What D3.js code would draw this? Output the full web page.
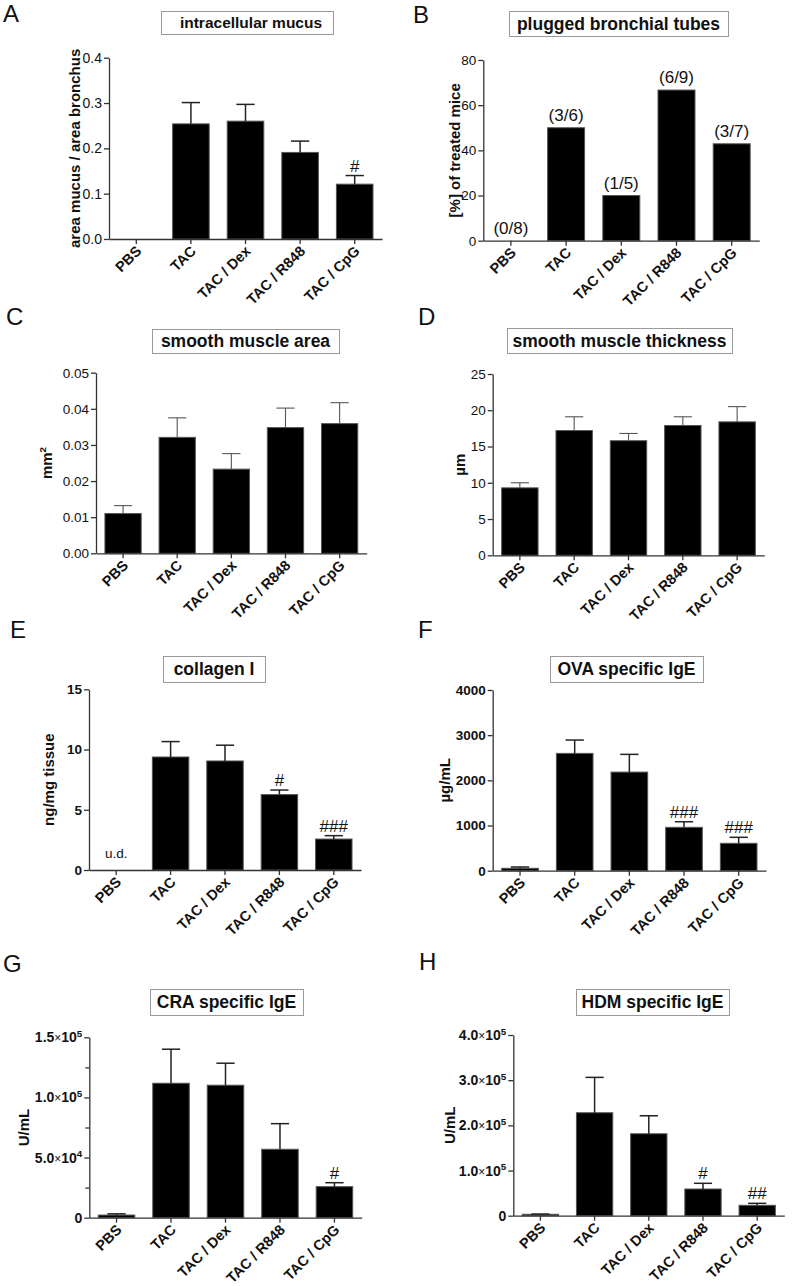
<!DOCTYPE html>
<html>
<head>
<meta charset="utf-8">
<script src="https://cdn.jsdelivr.net/npm/d3@7"></script>
<style>
  body { margin: 0; background: #fff; }
  svg { display: block; }
  text { font-family: "Liberation Sans", Arial, Helvetica, sans-serif; fill: #111; }
</style>
</head>
<body>
<div id="chart"></div>
<script>
// Groups on every x axis
const groups = ["PBS", "TAC", "TAC / Dex", "TAC / R848", "TAC / CpG"];

// A: intracellular mucus (area mucus / area bronchus)
const mucusMean = [0, 0.254, 0.260, 0.191, 0.121];
const mucusSem  = [0, 0.047, 0.037, 0.025, 0.019];
const mucusSig  = ["", "", "", "", "#"];
const mucusTicks = [0, 0.1, 0.2, 0.3, 0.4];

// B: plugged bronchial tubes (% of treated mice)
const pluggedPct = [0, 50, 20, 66.7, 42.9];
const pluggedCounts = ["(0/8)", "(3/6)", "(1/5)", "(6/9)", "(3/7)"];
const pluggedTicks = [0, 20, 40, 60, 80];

// C: smooth muscle area (mm2)
const smAreaMean = [0.0110, 0.0321, 0.0233, 0.0348, 0.0359];
const smAreaSem  = [0.0022, 0.0054, 0.0043, 0.0054, 0.0058];
const smAreaTicks = [0, 0.01, 0.02, 0.03, 0.04, 0.05];

// D: smooth muscle thickness (µm)
const smThickMean = [9.3, 17.2, 15.8, 17.9, 18.4];
const smThickSem  = [0.7, 1.9, 1.0, 1.2, 2.1];
const smThickTicks = [0, 5, 10, 15, 20, 25];

// E: collagen I (ng/mg tissue)
const collagenMean = [0, 9.38, 9.05, 6.26, 2.57];
const collagenSem  = [0, 1.28, 1.31, 0.38, 0.28];
const collagenSig  = ["", "", "", "#", "###"];
const collagenNote = ["u.d.", "", "", "", ""];
const collagenTicks = [0, 5, 10, 15];

// F: OVA specific IgE (µg/mL)
const ovaMean = [53, 2597, 2183, 960, 606];
const ovaSem  = [29, 295, 392, 124, 133];
const ovaSig  = ["", "", "", "###", "###"];
const ovaTicks = [0, 1000, 2000, 3000, 4000];

// G: CRA specific IgE (U/mL)
const craMean = [2200, 111800, 110150, 56900, 25800];
const craSem  = [1000, 28300, 18300, 21300, 3300];
const craSig  = ["", "", "", "", "#"];
const craTicks = [0, 50000, 100000, 150000];
const craMinor = [25000, 75000, 125000];

// H: HDM specific IgE (U/mL)
const hdmMean = [3100, 227900, 181400, 59100, 23000];
const hdmSem  = [500, 78300, 39800, 12600, 4400];
const hdmSig  = ["", "", "", "#", "##"];
const hdmTicks = [0, 100000, 200000, 300000, 400000];

const svg = d3.select("#chart").append("svg")
  .attr("width", 792)
  .attr("height", 1286)
  .attr("viewBox", [0, 0, 792, 1286]);

// writes 1.5×10⁵ style labels as tspans
function sciLabel(sel, v) {
  sel.text(null);
  if (v === 0) { sel.text("0"); return; }
  const e = Math.floor(Math.log10(v));
  const m = v / Math.pow(10, e);
  sel.append("tspan").text(m.toFixed(1));
  sel.append("tspan").attr("font-weight", "normal").attr("font-size", "0.85em").text("×");
  sel.append("tspan").text("10");
  sel.append("tspan").attr("font-size", "0.7em").attr("dy", "-0.55em").text(e);
}

function panel(p) {
  const g = svg.append("g");

  // panel letter
  g.append("text")
    .attr("x", p.letter[1]).attr("y", p.letter[2])
    .attr("font-size", 24)
    .text(p.letter[0]);

  // boxed title
  const [bx0, by0, bx1, by1] = p.box;
  g.append("rect")
    .attr("x", bx0 + 0.5).attr("y", by0 + 0.5)
    .attr("width", bx1 - bx0).attr("height", by1 - by0)
    .attr("fill", "none").attr("stroke", "#9a9a9a");
  g.append("text")
    .attr("x", (bx0 + bx1) / 2 + (p.titleDx || 0))
    .attr("y", (by0 + by1) / 2 + p.titleSize * 0.36)
    .attr("text-anchor", "middle")
    .attr("font-weight", "bold")
    .attr("font-size", p.titleSize)
    .text(p.title);

  const x = d3.scaleBand()
    .domain(groups)
    .range([p.left, p.right])
    .paddingInner(0.33)
    .paddingOuter(0.165);

  const y = d3.scaleLinear()
    .domain([0, p.yMax])
    .range([p.bottom, p.top]);

  const rows = groups.map((k, i) => ({
    k, v: p.mean[i], e: p.sem ? p.sem[i] : 0,
    sig: p.sig ? p.sig[i] : "", note: p.note ? p.note[i] : ""
  }));

  // bars
  g.append("g").selectAll("rect")
    .data(rows.filter(d => d.v > 0))
    .join("rect")
    .attr("x", d => x(d.k))
    .attr("width", x.bandwidth())
    .attr("y", d => y(d.v))
    .attr("height", d => y(0) - y(d.v))
    .attr("fill", "#000")
    .attr("stroke", "#555")
    .attr("stroke-width", 1);

  // error bars (upper half only)
  const eb = g.append("g")
    .attr("stroke", p.errColor || "#222")
    .attr("stroke-width", p.errWidth || 1.5);
  const withErr = rows.filter(d => d.e > 0);
  eb.selectAll("line.v").data(withErr).join("line").attr("class", "v")
    .attr("x1", d => x(d.k) + x.bandwidth() / 2)
    .attr("x2", d => x(d.k) + x.bandwidth() / 2)
    .attr("y1", d => y(d.v))
    .attr("y2", d => y(d.v + d.e));
  eb.selectAll("line.c").data(withErr).join("line").attr("class", "c")
    .attr("x1", d => x(d.k) + x.bandwidth() / 4)
    .attr("x2", d => x(d.k) + x.bandwidth() * 3 / 4)
    .attr("y1", d => y(d.v + d.e))
    .attr("y2", d => y(d.v + d.e));

  // significance marks
  g.append("g").selectAll("text")
    .data(rows.filter(d => d.sig))
    .join("text")
    .attr("x", d => x(d.k) + x.bandwidth() / 2)
    .attr("y", d => y(d.v + d.e) - 4)
    .attr("text-anchor", "middle")
    .attr("font-size", 17)
    .text(d => d.sig);

  // labels above bars (counts, u.d.)
  g.append("g").selectAll("text")
    .data(rows.filter(d => d.note))
    .join("text")
    .attr("x", d => x(d.k) + x.bandwidth() / 2)
    .attr("y", d => y(d.v) - (p.noteGap || 7))
    .attr("text-anchor", "middle")
    .attr("font-size", p.noteSize || 17)
    .text(d => d.note);

  // y axis
  const ya = g.append("g")
    .attr("transform", `translate(${p.left},0)`)
    .call(d3.axisLeft(y).tickValues(p.ticks).tickSize(5).tickSizeOuter(0).tickPadding(2)
      .tickFormat(p.fmt ? d3.format(p.fmt) : d3.format("d")));
  ya.selectAll("text")
    .attr("font-size", p.tickSize)
    .attr("font-weight", p.tickBold ? "bold" : "normal")
    .attr("fill", "#111");
  if (p.sci) ya.selectAll(".tick text").each(function (d) { sciLabel(d3.select(this), d); });
  if (p.minor) {
    g.append("g")
      .attr("transform", `translate(${p.left},0)`)
      .call(d3.axisLeft(y).tickValues(p.minor).tickSize(4).tickFormat(""))
      .call(s => s.select(".domain").remove());
  }

  // x axis
  const xa = g.append("g")
    .attr("transform", `translate(0,${p.bottom})`)
    .call(d3.axisBottom(x).tickSize(5).tickSizeOuter(0));
  xa.selectAll("text")
    .attr("x", 0).attr("y", 0).attr("dy", null)
    .attr("text-anchor", "end")
    .attr("transform", "translate(6,13) rotate(-45)")
    .attr("font-size", 14.5)
    .attr("font-weight", "bold")
    .attr("fill", "#111");

  g.selectAll(".domain, .tick line")
    .attr("stroke", "#333")
    .attr("stroke-width", 1.3);

  // y axis title
  const yl = g.append("text")
    .attr("transform", `translate(${p.yLabelX},${(p.top + p.bottom) / 2}) rotate(-90)`)
    .attr("dy", "0.35em")
    .attr("text-anchor", "middle")
    .attr("font-weight", "bold")
    .attr("font-size", p.yLabelSize || 15);
  if (p.yLabelSup) {
    yl.append("tspan").text(p.yLabel);
    yl.append("tspan").attr("font-size", "0.65em").attr("dy", "-0.6em").text(p.yLabelSup);
  } else {
    yl.text(p.yLabel);
  }
}

panel({
  letter: ["A", 3, 22], title: "intracellular mucus", box: [161, 11, 333, 34], titleSize: 15.5, titleDx: 4,
  left: 109, right: 382, top: 57.7, bottom: 239, yMax: 0.4, ticks: mucusTicks, fmt: ".1f", tickSize: 14,
  mean: mucusMean, sem: mucusSem, sig: mucusSig,
  yLabel: "area mucus / area bronchus", yLabelX: 75
});

panel({
  letter: ["B", 413, 23], title: "plugged bronchial tubes", box: [509, 11, 728, 36], titleSize: 17.5,
  left: 483.3, right: 759.3, top: 60, bottom: 240.7, yMax: 80, ticks: pluggedTicks, tickSize: 13.5,
  mean: pluggedPct, note: pluggedCounts,
  yLabel: "[%] of treated mice", yLabelX: 454.3
});

panel({
  letter: ["C", 6, 325], title: "smooth muscle area", box: [152, 329, 339, 353], titleSize: 17.5,
  left: 96, right: 366.7, top: 372.7, bottom: 553.3, yMax: 0.05, ticks: smAreaTicks, fmt: ".2f", tickSize: 13.5,
  mean: smAreaMean, sem: smAreaSem, errColor: "#555", errWidth: 1.1,
  yLabel: "mm", yLabelSup: "2", yLabelX: 46.7
});

panel({
  letter: ["D", 418, 325], title: "smooth muscle thickness", box: [507, 328, 732, 353], titleSize: 17.5,
  left: 492.7, right: 764.3, top: 374, bottom: 555.3, yMax: 25, ticks: smThickTicks, tickSize: 13.5,
  mean: smThickMean, sem: smThickSem, errColor: "#555", errWidth: 1.1,
  yLabel: "µm", yLabelX: 459.3
});

panel({
  letter: ["E", 10, 638], title: "collagen I", box: [163, 656, 265, 682], titleSize: 17.5,
  left: 89, right: 361, top: 689.3, bottom: 870, yMax: 15, ticks: collagenTicks, tickSize: 13.5, tickBold: true,
  mean: collagenMean, sem: collagenSem, sig: collagenSig, note: collagenNote, noteSize: 13.5, noteGap: 12,
  yLabel: "ng/mg tissue", yLabelX: 48.3
});

panel({
  letter: ["F", 418, 638], title: "OVA specific IgE", box: [550, 656, 703, 682], titleSize: 17.5,
  left: 492.7, right: 766, top: 690, bottom: 870.7, yMax: 4000, ticks: ovaTicks, tickSize: 13.5, tickBold: true,
  mean: ovaMean, sem: ovaSem, sig: ovaSig,
  yLabel: "µg/mL", yLabelX: 444.3
});

panel({
  letter: ["G", 3, 972], title: "CRA specific IgE", box: [150, 989, 303, 1015], titleSize: 17.5,
  left: 89.3, right: 361.7, top: 1037.3, bottom: 1217.7, yMax: 150000, ticks: craTicks, minor: craMinor,
  tickSize: 14, tickBold: true, sci: true,
  mean: craMean, sem: craSem, sig: craSig,
  yLabel: "U/mL", yLabelX: 23.3
});

panel({
  letter: ["H", 419, 970], title: "HDM specific IgE", box: [576, 989, 729, 1015], titleSize: 17.5,
  left: 513.3, right: 784.3, top: 1035, bottom: 1215.7, yMax: 400000, ticks: hdmTicks,
  tickSize: 14, tickBold: true, sci: true,
  mean: hdmMean, sem: hdmSem, sig: hdmSig,
  yLabel: "U/mL", yLabelX: 449.3
});
</script>
</body>
</html>
